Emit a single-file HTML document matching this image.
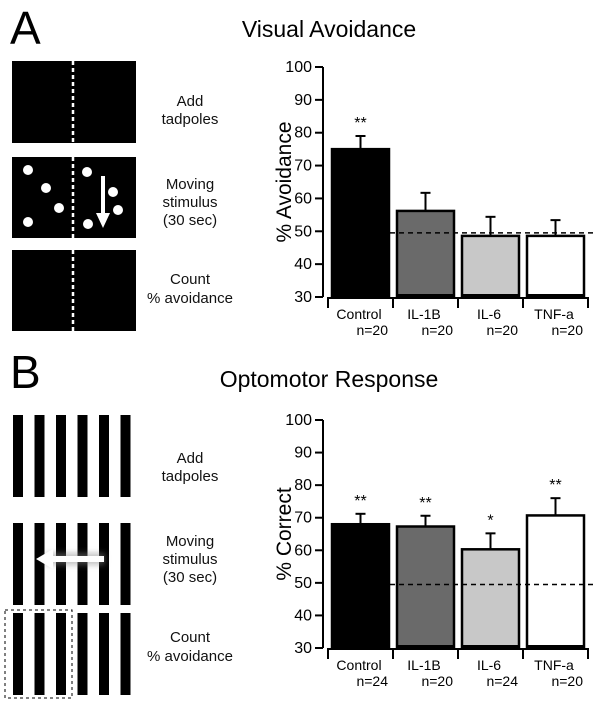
<!DOCTYPE html>
<html><head><meta charset="utf-8"><style>
body{margin:0;background:#fff}
svg text{font-family:"Liberation Sans","DejaVu Sans",sans-serif}
</style></head><body>
<svg id="fig" width="600" height="710" viewBox="0 0 600 710" xmlns="http://www.w3.org/2000/svg">
<defs>
<filter id="sh" x="-30%" y="-80%" width="160%" height="260%"><feGaussianBlur stdDeviation="3"/></filter>
</defs>
<!-- Panel A -->
<text x="10" y="44" font-size="46">A</text>
<text x="329" y="37" font-size="23" text-anchor="middle">Visual Avoidance</text>
<g>
<rect x="12" y="61" width="124" height="82" fill="#000"/>
<rect x="12" y="157" width="124" height="81" fill="#000"/>
<rect x="12" y="250" width="124" height="81" fill="#000"/>
<line x1="73" y1="61" x2="73" y2="143" stroke="#fff" stroke-width="2.5" stroke-dasharray="4,3"/>
<line x1="73" y1="157" x2="73" y2="238" stroke="#fff" stroke-width="2.5" stroke-dasharray="4,3"/>
<line x1="73" y1="250" x2="73" y2="331" stroke="#fff" stroke-width="2.5" stroke-dasharray="4,3"/>
<g fill="#fff">
<circle cx="28" cy="170" r="5"/><circle cx="46" cy="188" r="5"/><circle cx="59" cy="208" r="5"/><circle cx="28" cy="222" r="5"/>
<circle cx="87" cy="172" r="5"/><circle cx="113" cy="192" r="5"/><circle cx="118" cy="210" r="5"/><circle cx="88" cy="224" r="5"/>
</g>
<line x1="103" y1="176" x2="103" y2="215" stroke="#fff" stroke-width="4"/>
<polygon points="96,213 110,213 103,228" fill="#fff"/>
</g>
<g font-size="15" text-anchor="middle" fill="#111">
<text x="190" y="106">Add</text><text x="190" y="124">tadpoles</text>
<text x="190" y="189">Moving</text><text x="190" y="207">stimulus</text><text x="190" y="225">(30 sec)</text>
<text x="190" y="284">Count</text><text x="190" y="303">% avoidance</text>
</g>
<text transform="translate(291,182) rotate(-90)" font-size="21" text-anchor="middle">% Avoidance</text>
<g id="chartA"></g>

<!-- Panel B -->
<text x="10" y="388" font-size="46">B</text>
<text x="329" y="387" font-size="23" text-anchor="middle">Optomotor Response</text>
<g id="stripes"></g>
<rect x="5" y="610" width="67" height="88" fill="none" stroke="#000" stroke-width="1" stroke-dasharray="3,3"/>
<rect x="45" y="553" width="60" height="12" fill="#888" opacity="0.5" filter="url(#sh)"/>
<line x1="50" y1="559" x2="104" y2="559" stroke="#fff" stroke-width="6"/>
<polygon points="36,559 53,549 53,569" fill="#fff"/>
<g font-size="15" text-anchor="middle" fill="#111">
<text x="190" y="463">Add</text><text x="190" y="481">tadpoles</text>
<text x="190" y="546">Moving</text><text x="190" y="564">stimulus</text><text x="190" y="582">(30 sec)</text>
<text x="190" y="642">Count</text><text x="190" y="661">% avoidance</text>
</g>
<text transform="translate(291,534) rotate(-90)" font-size="21" text-anchor="middle">% Correct</text>
<g id="chartB"></g>
</svg>
<script>
const categories = ["Control","IL-1B","IL-6","TNF-a"];
const valuesA = [75, 56.2, 48.6, 48.6];
const errorsA = [4, 5.5, 5.8, 4.8];
const nA = ["n=20","n=20","n=20","n=20"];
const starsA = ["**","","",""];
const valuesB = [68, 67.3, 60.3, 70.7];
const errorsB = [3.2, 3.3, 4.9, 5.3];
const nB = ["n=24","n=20","n=24","n=20"];
const starsB = ["**","**","*","**"];
const yTicks = [30,40,50,60,70,80,90,100];
const chanceLevel = 49.5;
const fills = ["#000","#6a6a6a","#c8c8c8","#fff"];
const NS="http://www.w3.org/2000/svg";
function mk(tag, attrs, parent){const e=document.createElementNS(NS,tag);for(const k in attrs)e.setAttribute(k,attrs[k]);parent.appendChild(e);return e;}
function drawChart(g, top, bottom, values, errors, ns, stars){
  const y0=bottom, pxPer=(bottom-top)/70;
  const y=v=>y0-(v-30)*pxPer;
  const axisX=323, left=328, slot=65, barW=57;
  const xb=i=>left+4+i*slot;
  let ax=mk('line',{x1:axisX,y1:y(100),x2:axisX,y2:y0,stroke:'#000','stroke-width':2},g);
  
  
  yTicks.forEach(t=>{
    mk('line',{x1:axisX-8,y1:y(t),x2:axisX,y2:y(t),stroke:'#000','stroke-width':2},g);
    const tx=mk('text',{x:axisX-11,y:y(t)+5,'font-size':16,'text-anchor':'end'},g);
    tx.textContent=t;
    
    
  });
  values.forEach((v,i)=>{
    const cx=xb(i)+barW/2;
    mk('line',{x1:cx,y1:y(v+errors[i]),x2:cx,y2:y(v),stroke:'#000','stroke-width':2},g);
    mk('line',{x1:cx-5,y1:y(v+errors[i]),x2:cx+5,y2:y(v+errors[i]),stroke:'#000','stroke-width':2},g);
    const b=mk('rect',{x:xb(i),y:y(v),width:barW,height:y0-y(v),fill:fills[i],stroke:'#000','stroke-width':2.5},g);
    
    
    mk('line',{x1:xb(i),y1:y0-1.5,x2:xb(i)+barW,y2:y0-1.5,stroke:'#000','stroke-width':3},g);
    if(stars[i]){const s=mk('text',{x:cx,y:y(v+errors[i])-8,'font-size':16,'text-anchor':'middle'},g);s.textContent=stars[i];
      
      }
    const l=mk('text',{x:xb(i)+27,y:y0+22,'font-size':14,'text-anchor':'middle'},g);l.textContent=categories[i];
    
    
    const n=mk('text',{x:xb(i)+barW-1,y:y0+38,'font-size':14,'text-anchor':'end'},g);n.textContent=ns[i];
    
    
  });
  const xa=mk('line',{x1:left,y1:y0+1,x2:left+4*slot,y2:y0+1,stroke:'#000','stroke-width':2},g);
  
  
  for(let i=0;i<=4;i++) mk('line',{x1:left+i*slot,y1:y0,x2:left+i*slot,y2:y0+11,stroke:'#000','stroke-width':2},g);
  const d=mk('line',{x1:left+slot-3,y1:y(chanceLevel),x2:left+4*slot+8,y2:y(chanceLevel),stroke:'#000','stroke-width':1.5,'stroke-dasharray':'5,4'},g);
  
  
}
drawChart(document.getElementById('chartA'),67,297,valuesA,errorsA,nA,starsA);
drawChart(document.getElementById('chartB'),420,648,valuesB,errorsB,nB,starsB);
const sg=document.getElementById('stripes');
[[415,497],[523,605],[613,695]].forEach(r=>{for(let k=0;k<6;k++){mk('rect',{x:13+k*21.5,y:r[0],width:10,height:r[1]-r[0],fill:'#000'},sg);}});
</script>
</body></html>
